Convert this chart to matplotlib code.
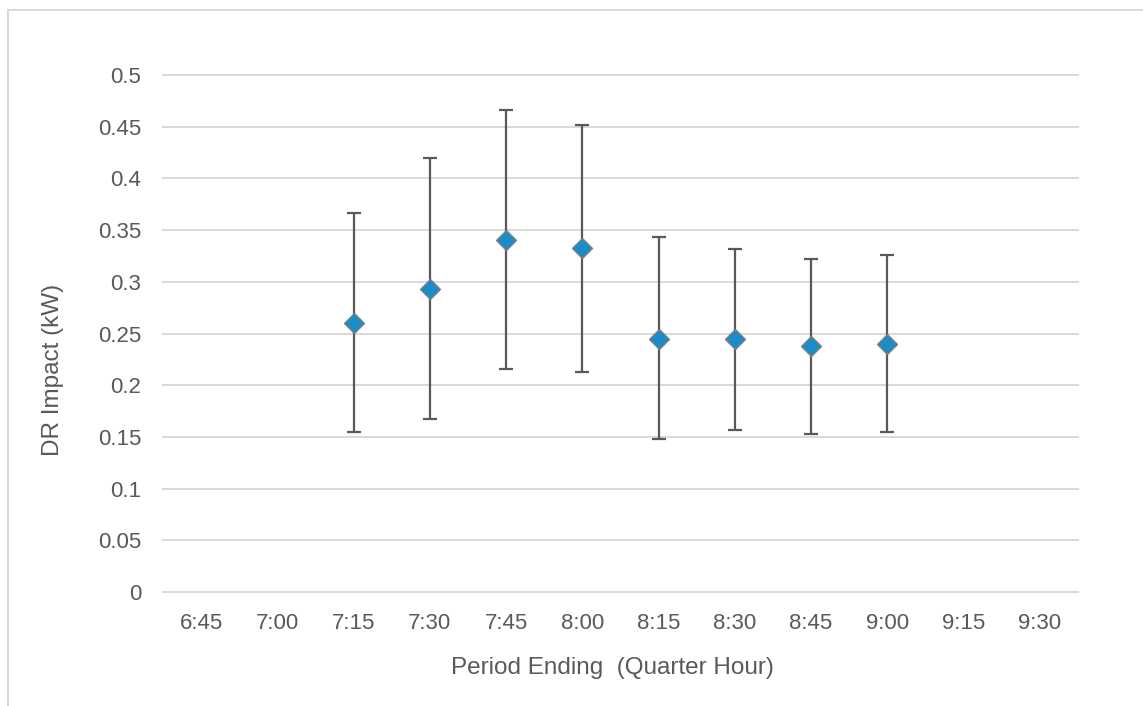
import matplotlib
matplotlib.use("Agg")
import matplotlib.pyplot as plt
from matplotlib.lines import Line2D
import numpy as np

plt.rcParams['font.family'] = ['Liberation Sans', 'DejaVu Sans']

categories = ["6:45", "7:00", "7:15", "7:30", "7:45", "8:00",
              "8:15", "8:30", "8:45", "9:00", "9:15", "9:30"]
impact = [None, None, 0.2604, 0.2935, 0.3403, 0.3330,
          0.2451, 0.2442, 0.2377, 0.2399, None, None]
upper = [None, None, 0.3666, 0.4198, 0.4660, 0.4521,
         0.3433, 0.3318, 0.3218, 0.3260, None, None]
lower = [None, None, 0.1548, 0.1671, 0.2157, 0.2130,
         0.1475, 0.1562, 0.1524, 0.1548, None, None]
yticks = [0, 0.05, 0.1, 0.15, 0.2, 0.25, 0.3, 0.35, 0.4, 0.45, 0.5]
ytick_labels = ["0", "0.05", "0.1", "0.15", "0.2", "0.25", "0.3",
                "0.35", "0.4", "0.45", "0.5"]

W, H = 1143, 706
fig = plt.figure(figsize=(W / 100, H / 100), dpi=100)
ax = fig.add_axes([163 / W, 1 - 592 / H, (1078 - 163) / W, (592 - 75) / H])

x_all = np.arange(len(categories))
idx = [i for i, v in enumerate(impact) if v is not None]
xs = np.array(idx, dtype=float)
ys = np.array([impact[i] for i in idx])
ups = np.array([upper[i] for i in idx])
los = np.array([lower[i] for i in idx])

for yv in yticks:
    ax.axhline(yv, color='#D9D9D9', lw=1.4, zorder=0, clip_on=False)

ax.errorbar(xs, ys, yerr=[ys - los, ups - ys], fmt='none',
            ecolor='#595959', elinewidth=1.6, capsize=5, capthick=1.6, zorder=2)
ax.plot(xs, ys, linestyle='none', marker='D', markersize=10,
        markerfacecolor='#1A8CC9', markeredgecolor='#7F7F7F',
        markeredgewidth=1, zorder=3)

ax.set_xlim(-0.5, len(categories) - 0.5)
ax.set_ylim(0, 0.5)
ax.set_xticks(x_all)
ax.set_xticklabels(categories)
ax.set_yticks(yticks)
ax.set_yticklabels(ytick_labels)
ax.tick_params(axis='both', length=0, labelsize=16, labelcolor='#595959')
ax.tick_params(axis='y', pad=15.5)
ax.tick_params(axis='x', pad=15)
for s in ax.spines.values():
    s.set_visible(False)

fig.text(612 / W, 1 - 674 / H, "Period Ending  (Quarter Hour)", fontsize=17.5,
         color='#595959', ha='center', va='baseline')
fig.text(53 / W, 1 - 370 / H, "DR Impact (kW)", fontsize=17.5, color='#595959',
         ha='center', va='center', rotation=90)

# chart border (top and left visible)
fig.add_artist(Line2D([7.5 / W, 1.0], [1 - 10 / H, 1 - 10 / H], transform=fig.transFigure,
                      color='#D9D9D9', lw=1.5))
fig.add_artist(Line2D([7.5 / W, 7.5 / W], [0, 1 - 10 / H], transform=fig.transFigure,
                      color='#D9D9D9', lw=1.5))

fig.savefig("out.png", dpi=100, facecolor='white')
